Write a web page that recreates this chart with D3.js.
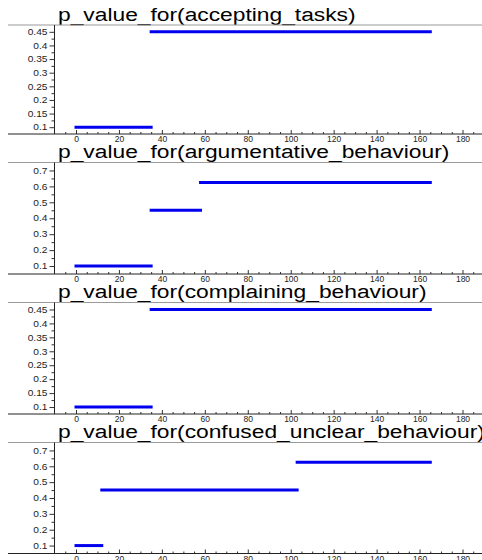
<!DOCTYPE html>
<html>
<head>
<meta charset="utf-8">
<script src="https://cdn.jsdelivr.net/npm/d3@7"></script>
<style>
  body { margin: 0; background: #fff; }
  svg { display: block; }
  text { font-family: "Liberation Sans", Arial, sans-serif; }
</style>
</head>
<body>
<svg id="chart" width="482" height="560"></svg>
<script>
// Step functions of p-values, one panel per behaviour
const panelTitles = [
  "p_value_for(accepting_tasks)",
  "p_value_for(argumentative_behaviour)",
  "p_value_for(complaining_behaviour)",
  "p_value_for(confused_unclear_behaviour)"
];
const xTickValues = [0, 20, 40, 60, 80, 100, 120, 140, 160, 180];
const yTicksFine = [0.1, 0.15, 0.2, 0.25, 0.3, 0.35, 0.4, 0.45];
const yTicksCoarse = [0.1, 0.2, 0.3, 0.4, 0.5, 0.6, 0.7];

// breakpoints along x and the level held between consecutive breakpoints
const acceptingBreaks = [0, 35, 165];
const acceptingValues = [0.1, 0.45];
const argumentativeBreaks = [0, 35, 58, 165];
const argumentativeValues = [0.1, 0.45, 0.625];
const complainingBreaks = [0, 35, 165];
const complainingValues = [0.1, 0.45];
const confusedBreaks = [0, 12, 103, 165];
const confusedValues = [0.1, 0.45, 0.625];

const panels = [
  { title: panelTitles[0], breaks: acceptingBreaks, values: acceptingValues, yTicks: yTicksFine, step: 0.05, top: 25, bottom: 134 },
  { title: panelTitles[1], breaks: argumentativeBreaks, values: argumentativeValues, yTicks: yTicksCoarse, step: 0.1, top: 162.5, bottom: 274 },
  { title: panelTitles[2], breaks: complainingBreaks, values: complainingValues, yTicks: yTicksFine, step: 0.05, top: 302.5, bottom: 414 },
  { title: panelTitles[3], breaks: confusedBreaks, values: confusedValues, yTicks: yTicksCoarse, step: 0.1, top: 442.5, bottom: 553.5 }
];

const svg = d3.select("#chart");
const W = 482;
const frameLeft = 8, frameRight = 482, axisX = 54.5;

const x = d3.scaleLinear().domain([0, 180]).range([76, 462.5]);
const xMinor = d3.range(-5, 186, 5).filter(v => v % 20 !== 0);

panels.forEach(p => {
  const g = svg.append("g");
  const lo = p.yTicks[0], hi = p.yTicks[p.yTicks.length - 1];
  // half a tick step of padding above and below the labelled range
  const y = d3.scaleLinear().domain([lo - p.step / 2, hi + p.step / 2]).range([p.bottom, p.top]);

  // title
  g.append("text")
    .attr("transform", `translate(58,${p.top - 4.5}) scale(1.2,1)`)
    .attr("font-size", 19)
    .attr("fill", "#000")
    .text(p.title);

  // frame line above the plot
  g.append("line")
    .attr("x1", frameLeft).attr("x2", frameRight)
    .attr("y1", p.top).attr("y2", p.top)
    .attr("stroke", "#9a9a9a").attr("stroke-width", 1.2);

  // y axis: major ticks with labels, minor ticks between
  const yMinor = p.yTicks.map(v => v + p.step / 2);
  const yAxis = g.append("g")
    .attr("transform", `translate(${axisX},0)`)
    .call(d3.axisLeft(y).tickValues(p.yTicks).tickSize(5).tickPadding(3)
      .tickFormat(d => String(+d.toFixed(2))));
  yAxis.select(".domain").remove();
  yAxis.selectAll("line").attr("stroke", "#333");
  yAxis.selectAll("text")
    .attr("x", null)
    .attr("transform", "translate(-7,0) scale(1.2,1)")
    .attr("font-size", 8.5).attr("fill", "#222")
    .attr("font-family", "\"Liberation Sans\", Arial, sans-serif");
  const yAxisMinor = g.append("g")
    .attr("transform", `translate(${axisX},0)`)
    .call(d3.axisLeft(y).tickValues(yMinor.filter(v => y(v) > p.top)).tickSize(3).tickFormat(""));
  yAxisMinor.select(".domain").remove();
  yAxisMinor.selectAll("line").attr("stroke", "#333");

  g.append("line")
    .attr("x1", axisX).attr("x2", axisX)
    .attr("y1", p.top).attr("y2", p.bottom)
    .attr("stroke", "#222").attr("stroke-width", 1);

  // x axis: ticks pointing into the plot, labels under the line
  const xAxis = g.append("g")
    .attr("transform", `translate(0,${p.bottom})`)
    .call(d3.axisBottom(x).tickValues(xTickValues).tickSize(-4).tickPadding(2));
  xAxis.select(".domain").remove();
  xAxis.selectAll("line").attr("stroke", "#333");
  xAxis.selectAll("text").attr("font-size", 8.5).attr("fill", "#222")
    .attr("font-family", "\"Liberation Sans\", Arial, sans-serif");
  const xAxisMinor = g.append("g")
    .attr("transform", `translate(0,${p.bottom})`)
    .call(d3.axisBottom(x).tickValues(xMinor.filter(v => x(v) > axisX && x(v) < W)).tickSize(-2).tickFormat(""));
  xAxisMinor.select(".domain").remove();
  xAxisMinor.selectAll("line").attr("stroke", "#333");

  g.append("line")
    .attr("x1", frameLeft).attr("x2", frameRight)
    .attr("y1", p.bottom).attr("y2", p.bottom)
    .attr("stroke", "#222").attr("stroke-width", 1);

  // step segments
  const segs = p.values.map((v, i) => ({ x0: p.breaks[i], x1: p.breaks[i + 1], v }));
  g.selectAll("line.seg").data(segs).enter().append("line")
    .attr("class", "seg")
    .attr("x1", d => x(d.x0)).attr("x2", d => x(d.x1))
    .attr("y1", d => y(d.v)).attr("y2", d => y(d.v))
    .attr("stroke", "#0000ee").attr("stroke-width", 3)
    .attr("stroke-linecap", "square");
});
</script>
</body>
</html>
